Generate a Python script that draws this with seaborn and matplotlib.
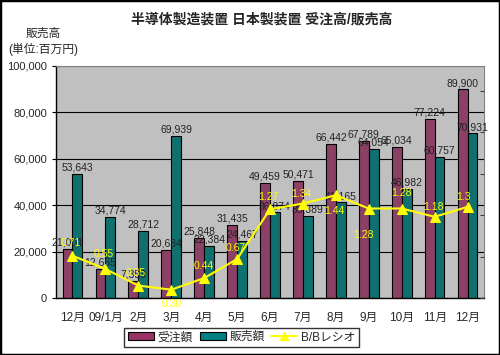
import numpy as np
import pandas as pd
import matplotlib
matplotlib.use('Agg')
import matplotlib.pyplot as plt
import seaborn as sns
from matplotlib.patches import Patch, Rectangle
from matplotlib.lines import Line2D
from matplotlib.ticker import FuncFormatter

months = ['12月', '09/1月', '2月', '3月', '4月', '5月', '6月', '7月', '8月', '9月', '10月', '11月', '12月']
orders = [21001, 12665, 7353, 20634, 25848, 31435, 49459, 50471, 66442, 67789, 65034, 77224, 89900]
sales = [53643, 34774, 28712, 69939, 22384, 24467, 36874, 35389, 41165, 64054, 46982, 60757, 70931]
bb_ratio = [0.71, 0.55, 0.35, 0.30, 0.44, 0.67, 1.27, 1.34, 1.44, 1.28, 1.28, 1.18, 1.3]
bb_labels = ['0.71', '0.55', '0.35', '0.30', '0.44', '0.67', '1.27', '1.34', '1.44', '1.28', '1.28', '1.18', '1.3']
series_names = ['受注額', '販売額', 'B/Bレシオ']

sns.set_style('white')
plt.rcParams['font.family'] = ['Liberation Sans', 'Noto Sans CJK JP', 'DejaVu Sans']

colors = ['#993366', '#008080']
yellow = '#FFFF00'

df = pd.DataFrame({
    'idx': list(range(len(months))) * 2,
    'value': orders + sales,
    'series': [series_names[0]] * len(months) + [series_names[1]] * len(months),
})

fig = plt.figure(figsize=(5, 3.55), dpi=100)
ax = fig.add_axes([0.112, 0.1606, 0.856, 0.6535])
ax.set_facecolor('#C0C0C0')

sns.barplot(data=df, x='idx', y='value', hue='series', palette=colors,
            width=0.6, edgecolor='black', linewidth=0.8, legend=False, ax=ax)

ax.set_ylim(0, 100000)
ax.set_yticks(range(0, 100001, 20000))
ax.yaxis.set_major_formatter(FuncFormatter(lambda v, p: f'{int(v):,}'))
ax.set_xlim(-0.5, len(months) - 0.5)
ax.set_xticks(range(len(months)))
ax.set_xticklabels(months, fontsize=8.5)
ax.set_xticks(np.arange(0.5, len(months) - 1, 1), minor=True)
ax.tick_params(axis='x', which='major', length=0, pad=10)
ax.tick_params(axis='x', which='minor', length=3, direction='in', color='#404040')
ax.tick_params(axis='y', labelsize=8, length=3, color='black')
ax.set_xlabel('')
ax.set_ylabel('')
ax.grid(axis='y', color='black', linewidth=0.8)
ax.set_axisbelow(True)
for side in ['left', 'bottom']:
    ax.spines[side].set_color('black')
    ax.spines[side].set_linewidth(1)
for side in ['top', 'right']:
    ax.spines[side].set_color('#808080')

# values above bars
for cont in ax.containers:
    for bar in cont:
        h = bar.get_height()
        ax.annotate(f'{int(h):,}', (bar.get_x() + bar.get_width() / 2, h),
                    xytext=(0, 1), textcoords='offset points',
                    ha='center', va='bottom', fontsize=7.5, color='#222222')

ax2 = ax.twinx()
sns.lineplot(x=list(range(len(months))), y=bb_ratio, ax=ax2, color=yellow,
             linewidth=1.5, marker='^', markersize=6.5, markeredgecolor=yellow)
ax2.set_ylim(0.2, 3.0)
ax2.set_yticks(np.arange(0.2, 2.8, 0.5))
ax2.tick_params(axis='y', direction='in', length=3, labelright=False, color='#404040')
ax2.set_xlim(-0.5, len(months) - 0.5)
for side in ax2.spines:
    ax2.spines[side].set_visible(False)

label_offsets = [(-1, 9), (-1, 11), (-2, 9), (0, -10), (0, 9), (-1, 8), (-1, 9),
                 (-1, 7), (-1, -11), (-4, -19), (0, 11), (-1, 7), (-3, 7)]
for i, (v, t) in enumerate(zip(bb_ratio, bb_labels)):
    ax2.annotate(t, (i, v), xytext=label_offsets[i], textcoords='offset points',
                 ha='center', va='center', fontsize=7.5, color=yellow)

fig.text(0.524, 0.945, '半導体製造装置 日本製装置 受注高/販売高', ha='center', va='center',
         fontsize=10, fontweight='bold')
fig.text(0.086, 0.905, '販売高', ha='center', va='center', fontsize=8.5)
fig.text(0.086, 0.86, '(単位:百万円)', ha='center', va='center', fontsize=8.5)

handles = [Patch(facecolor=colors[0], edgecolor='black', linewidth=0.8),
           Patch(facecolor=colors[1], edgecolor='black', linewidth=0.8),
           Line2D([], [], color=yellow, marker='^', markersize=6, linewidth=1.5)]
leg = fig.legend(handles, series_names, loc='center', bbox_to_anchor=(0.483, 0.05),
                 ncol=3, fontsize=8.5, frameon=True, fancybox=False, borderpad=0.3,
                 handlelength=2.2, handletextpad=0.3, columnspacing=0.6)
leg.get_frame().set_edgecolor('black')
leg.get_frame().set_linewidth(1)

fig.patches.append(Rectangle((0, 0), 1, 1, transform=fig.transFigure, fill=False,
                             edgecolor='black', linewidth=2.5))

fig.savefig('out.png', dpi=100)
